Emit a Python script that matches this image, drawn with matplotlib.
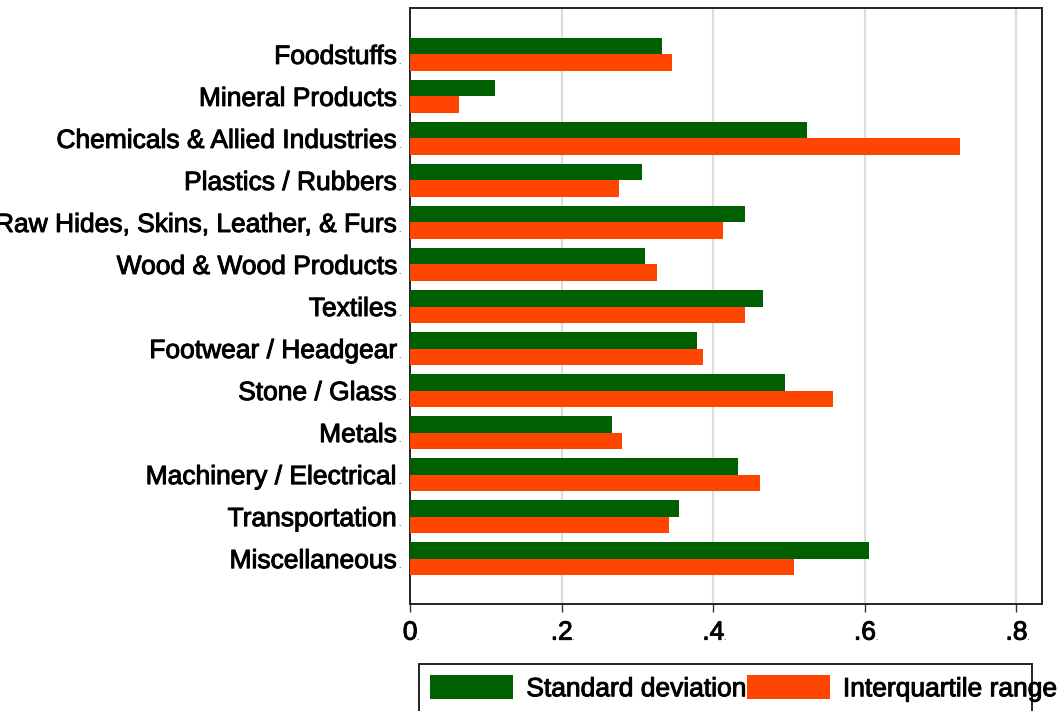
import numpy as np
import matplotlib.pyplot as plt
from matplotlib import transforms
from matplotlib.patches import Rectangle
import matplotlib.patheffects as pe

plt.rcParams['font.family'] = ['Liberation Sans', 'DejaVu Sans']

categories = ['Foodstuffs', 'Mineral Products', 'Chemicals & Allied Industries',
              'Plastics / Rubbers', 'Raw Hides, Skins, Leather, & Furs',
              'Wood & Wood Products', 'Textiles', 'Footwear / Headgear',
              'Stone / Glass', 'Metals', 'Machinery / Electrical',
              'Transportation', 'Miscellaneous']
std_dev = [0.333, 0.112, 0.524, 0.306, 0.442, 0.310, 0.465,
           0.379, 0.494, 0.267, 0.433, 0.355, 0.605]
iqr = [0.346, 0.065, 0.726, 0.275, 0.413, 0.326, 0.442,
       0.387, 0.558, 0.280, 0.462, 0.341, 0.506]
xticks = [0, 0.2, 0.4, 0.6, 0.8]
xticklabels = ['0', '.2', '.4', '.6', '.8']

green = '#005f00'
orange = '#ff4500'
fs = 19
fpx = fs * 100 / 72  # font size in pixels
heavy = [pe.withStroke(linewidth=0.7, foreground='black')]

fig = plt.figure(figsize=(10.57, 7.11), dpi=100)
ax = fig.add_axes([0.388, 0.1505, 0.598, 0.838])

y = np.arange(len(categories))
h = 0.39
ax.barh(y - h / 2, std_dev, height=h, color=green, label='Standard deviation', zorder=3)
ax.barh(y + h / 2, iqr, height=h, color=orange, label='Interquartile range', zorder=3)

ax.set_ylim(13.08, -1.1)
ax.set_xlim(0, 0.834)
ax.set_yticks(y)
ax.set_yticklabels(categories, fontsize=fs)
ax.tick_params(axis='y', length=0, pad=9.5)
ax.set_xticks(xticks)
ax.set_xticklabels(xticklabels, fontsize=fs)
ax.tick_params(axis='x', length=6, width=1, pad=6, color='#333333')
ax.grid(axis='x', color='#dcdcdc', linewidth=1.6, zorder=0)
ax.set_axisbelow(True)
for s in ax.spines.values():
    s.set_linewidth(1.4)
    s.set_color('#222222')

# little Stata-style dots after the labels
ytr = ax.get_yaxis_transform() + transforms.ScaledTranslation(-12 / 100, 0, fig.dpi_scale_trans)
for yi in y:
    ax.text(0, yi + 0.22, '.', transform=ytr, fontsize=6, ha='left', va='baseline')
base = (6 + 6) * 100 / 72 + 0.716 * fpx
for xt, lab in zip(xticks, xticklabels):
    w = sum(0.278 if c == '.' else 0.556 for c in lab) * fpx
    off = transforms.ScaledTranslation((w / 2 - 1) / 100, -base / 100, fig.dpi_scale_trans)
    ax.text(xt, 0, '.', transform=ax.get_xaxis_transform() + off, fontsize=6,
            ha='left', va='baseline')

leg = fig.legend(loc='upper left', bbox_to_anchor=(430 / 1057, 1 - 675 / 711), ncol=2,
                 fontsize=fs, frameon=False,
                 handlelength=3.15, handleheight=1.05, columnspacing=0.0,
                 handletextpad=0.5, borderpad=0, borderaxespad=0)
fig.patches.append(Rectangle((419 / 1057, -0.05), (1032 - 419) / 1057, 0.05 + 47 / 711,
                             transform=fig.transFigure, fill=False,
                             edgecolor='#222222', linewidth=1.4))

for t in ax.get_yticklabels() + ax.get_xticklabels() + leg.get_texts():
    t.set_path_effects(heavy)

fig.savefig('out.png', dpi=100)
